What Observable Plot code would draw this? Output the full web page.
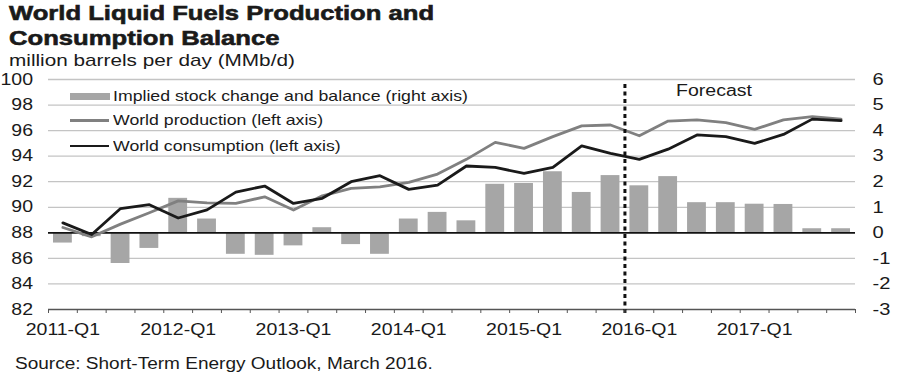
<!DOCTYPE html>
<html><head><meta charset="utf-8">
<script src="https://cdn.jsdelivr.net/npm/d3@7"></script>
<script src="https://cdn.jsdelivr.net/npm/@observablehq/plot@0.6"></script>
<style>
body{margin:0;background:#fff;font-family:"Liberation Sans",Arial,sans-serif;color:#1a1a1a}
#wrap{position:relative;width:900px;height:374px;overflow:hidden;background:#fff}
#chart{position:absolute;left:0;top:0}
.t{position:absolute;white-space:nowrap;transform:scaleX(1.22);transform-origin:0 0;line-height:1;color:#1a1a1a}
.ttl{font-size:21px;font-weight:bold;-webkit-text-stroke:0.6px #1a1a1a}
.sw{position:absolute}
</style></head><body>
<div id="wrap">
<div id="chart"></div>
<div class="t ttl" style="left:9px;top:2px">World Liquid Fuels Production and</div>
<div class="t ttl" style="left:9px;top:27px">Consumption Balance</div>
<div class="t" style="left:9px;top:51.5px;font-size:17px">million barrels per day (MMb/d)</div>
<div class="sw" style="left:70px;top:93px;width:40px;height:7px;background:#a6a6a6"></div>
<div class="t" style="left:113px;top:89px;font-size:14.5px">Implied stock change and balance (right axis)</div>
<div class="sw" style="left:70px;top:119.3px;width:39px;height:2.6px;background:#808080"></div>
<div class="t" style="left:113px;top:113.4px;font-size:14.5px">World production (left axis)</div>
<div class="sw" style="left:70px;top:144.8px;width:39px;height:2.6px;background:#1a1a1a"></div>
<div class="t" style="left:113px;top:139px;font-size:14.5px">World consumption (left axis)</div>
<div class="t" style="left:676px;top:83px;font-size:16px">Forecast</div>
<div class="t" style="left:15px;top:356px;font-size:15.6px">Source: Short-Term Energy Outlook, March 2016.</div>
</div>
<script>
const quarters = [
  "2011-Q1","2011-Q2","2011-Q3","2011-Q4",
  "2012-Q1","2012-Q2","2012-Q3","2012-Q4",
  "2013-Q1","2013-Q2","2013-Q3","2013-Q4",
  "2014-Q1","2014-Q2","2014-Q3","2014-Q4",
  "2015-Q1","2015-Q2","2015-Q3","2015-Q4",
  "2016-Q1","2016-Q2","2016-Q3","2016-Q4",
  "2017-Q1","2017-Q2","2017-Q3","2017-Q4"
];
// World production (left axis, MMb/d)
const production = [88.42, 87.69, 88.68, 89.57, 90.50, 90.35, 90.30, 90.82, 89.78, 90.90,
  91.48, 91.60, 91.95, 92.60, 93.75, 95.08, 94.61, 95.53, 96.37, 96.44,
  95.60, 96.75, 96.84, 96.63, 96.10, 96.84, 97.10, 96.90];
// World consumption (left axis, MMb/d)
const consumption = [88.78, 87.87, 89.90, 90.20, 89.16, 89.80, 91.19, 91.66, 90.30, 90.70,
  92.00, 92.47, 91.40, 91.74, 93.23, 93.12, 92.65, 93.12, 94.80, 94.22,
  93.75, 94.55, 95.66, 95.53, 95.00, 95.70, 96.90, 96.78];
// Implied stock change and balance (right axis, MMb/d)
const stockChange = [-0.40, -0.15, -1.20, -0.61, 1.35, 0.54, -0.84, -0.88, -0.51, 0.20,
  -0.46, -0.84, 0.54, 0.80, 0.47, 1.90, 1.93, 2.39, 1.58, 2.24,
  1.84, 2.20, 1.18, 1.18, 1.12, 1.11, 0.16, 0.16];
const leftTicks = [82, 84, 86, 88, 90, 92, 94, 96, 98, 100];
const rightTicks = [-3, -2, -1, 0, 1, 2, 3, 4, 5, 6];
const xTickLabels = ["2011-Q1","2012-Q1","2013-Q1","2014-Q1","2015-Q1","2016-Q1","2017-Q1"];
const forecastStart = "2016-Q1";

// right axis value r maps onto left axis as 88 + 2r
const toLeft = r => 88 + 2 * r;
const rows = quarters.map((q, i) => ({q, i, prod: production[i], cons: consumption[i], bal: stockChange[i]}));
const fIdx = quarters.indexOf(forecastStart);

const chart = Plot.plot({
  width: 900, height: 374,
  marginTop: 79, marginBottom: 65, marginLeft: 48, marginRight: 45,
  style: {fontFamily: "Liberation Sans, Arial, sans-serif", fontSize: "16px", color: "#1a1a1a", background: "white"},
  x: {type: "linear", domain: [0, quarters.length], axis: null},
  y: {domain: [82, 100], axis: null},
  marks: [
    Plot.gridY({ticks: leftTicks.filter(t => t !== 88 && t !== 82), stroke: "#c4c4c4", strokeOpacity: 1, strokeWidth: 1.3}),
    Plot.rect(rows, {x1: d => d.i, x2: d => d.i + 1, y1: 88, y2: d => toLeft(d.bal), fill: "#a6a6a6", insetLeft: 5, insetRight: 5}),
    Plot.ruleY([88], {stroke: "#111", strokeWidth: 1.7}),
    Plot.ruleY([82], {stroke: "#555", strokeWidth: 1.7}),
    Plot.line(rows, {x: d => d.i + 0.5, y: "prod", stroke: "#808080", strokeWidth: 2.8}),
    Plot.line(rows, {x: d => d.i + 0.5, y: "cons", stroke: "#1a1a1a", strokeWidth: 2.8}),
    Plot.ruleX([fIdx], {stroke: "#111", strokeWidth: 3, strokeDasharray: "4,3.5", insetTop: 5, insetBottom: -4}),
    Plot.axisX({ticks: d3.range(0, quarters.length + 1), tickSize: 4, tickFormat: () => "", stroke: "#555", label: null}),
    Plot.axisX({ticks: xTickLabels.map(l => quarters.indexOf(l) + 0.5), tickSize: 0, tickPadding: 14,
      tickFormat: d => quarters[Math.floor(d)], label: null, fontSize: 16, fill: "#1a1a1a"}),
    Plot.axisY({anchor: "left", ticks: leftTicks, tickSize: 0, tickPadding: 15.5, tickFormat: d => String(d), label: null, fontSize: 16, fill: "#1a1a1a"}),
    Plot.axisY({anchor: "right", ticks: rightTicks.map(toLeft), tickSize: 0, tickPadding: 17,
      tickFormat: d => String((d - 88) / 2), label: null, fontSize: 16.5, fill: "#1a1a1a"})
  ]
});
document.getElementById("chart").appendChild(chart);
// widen glyphs horizontally to match the reference's stretched lettering
chart.querySelectorAll("text").forEach(t => {
  const tr = t.getAttribute("transform");
  if (tr) t.setAttribute("transform", tr + " scale(1.22,1)");
  else {
    const x = +(t.getAttribute("x") || 0);
    t.setAttribute("transform", `translate(${x * (1 - 1.22)},0) scale(1.22,1)`);
  }
});
</script>
</body></html>
